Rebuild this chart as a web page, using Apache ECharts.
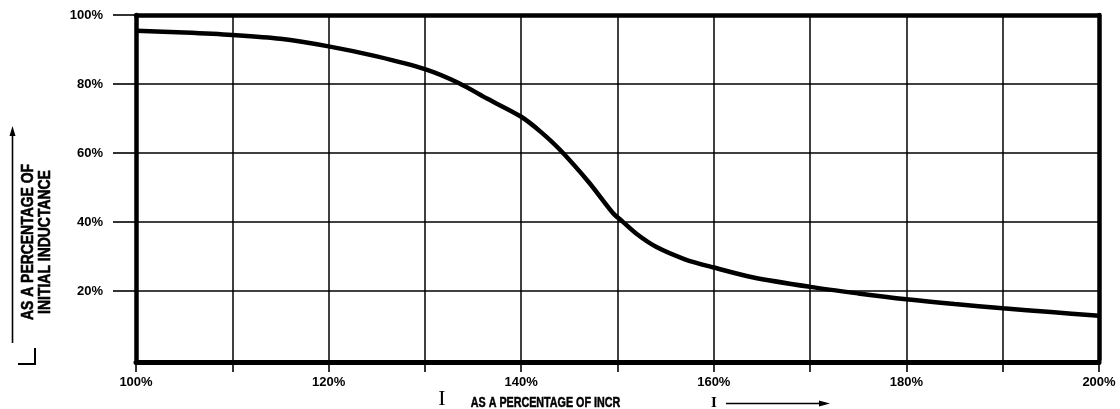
<!DOCTYPE html>
<html>
<head>
<meta charset="utf-8">
<script src="https://cdn.jsdelivr.net/npm/echarts@6/dist/echarts.min.js"></script>
<style>
html,body{margin:0;padding:0;background:#fff;}
#chart{width:1120px;height:409px;}
</style>
</head>
<body>
<div id="chart"></div>
<script>
// Current as a percentage of I_INCR (x) and inductance as a percentage of initial (y)
const currentPct = [100, 105, 110, 115, 120, 125, 130, 133.5, 136.5, 140, 142, 144, 147, 149.5, 150.5, 152, 154, 157, 160, 164, 170, 175, 180, 185, 190, 195, 200];
const inductancePct = [95.4, 94.9, 94.2, 93.1, 90.9, 88.0, 84.3, 80.3, 75.7, 70.5, 66.2, 61.0, 51.6, 42.7, 40.2, 36.5, 32.8, 29.2, 26.8, 24.0, 21.2, 19.3, 17.6, 16.2, 15.0, 13.9, 12.8];
const xLabelValues = [100, 120, 140, 160, 180, 200];
const yLabelValues = [20, 40, 60, 80, 100];
const yTitleText = 'AS A PERCENTAGE OF\nINITIAL INDUCTANCE';
const xTitleText = 'AS A PERCENTAGE OF INCR';

const FONT = '"Liberation Sans", Arial, sans-serif';
const SERIF = '"Liberation Serif", "DejaVu Serif", serif';

const chart = echarts.init(document.getElementById('chart'), null, {renderer: 'canvas'});
const points = currentPct.map((x, i) => [x, inductancePct[i]]);

chart.setOption({
  animation: false,
  backgroundColor: '#fff',
  grid: {left: 136, right: 21, top: 15, bottom: 49, containLabel: false},
  xAxis: [{
    type: 'value', position: 'bottom', min: 100, max: 200, interval: 10, offset: 2,
    axisLine: {show: true, onZero: false, lineStyle: {color: '#000', width: 5}},
    axisTick: {show: true, length: 10, lineStyle: {color: '#000', width: 1.6}},
    axisLabel: {
      customValues: xLabelValues, margin: 14, color: '#000',
      fontFamily: FONT, fontWeight: 'bold', fontSize: 13,
      formatter: v => v + '%'
    },
    splitLine: {show: true, lineStyle: {color: '#000', width: 1.5}}
  }, {
    type: 'value', position: 'top', min: 100, max: 200,
    axisLine: {show: true, onZero: false, lineStyle: {color: '#000', width: 4.5}},
    axisTick: {show: false}, axisLabel: {show: false}, splitLine: {show: false}
  }],
  yAxis: [{
    type: 'value', position: 'left', min: 0, max: 100, interval: 20,
    axisLine: {show: true, onZero: false, lineStyle: {color: '#000', width: 4.5}},
    axisTick: {show: true, customValues: yLabelValues, length: 23, lineStyle: {color: '#000', width: 1.6}},
    axisLabel: {
      customValues: yLabelValues, margin: 33, color: '#000',
      fontFamily: FONT, fontWeight: 'bold', fontSize: 13,
      formatter: v => v + '%'
    },
    splitLine: {show: true, lineStyle: {color: '#000', width: 1.5}}
  }, {
    type: 'value', position: 'right', min: 0, max: 100,
    axisLine: {show: true, onZero: false, lineStyle: {color: '#000', width: 4.5}},
    axisTick: {show: false}, axisLabel: {show: false}, splitLine: {show: false}
  }],
  series: [{
    type: 'line', xAxisIndex: 0, yAxisIndex: 0,
    data: points, smooth: 0.3,
    showSymbol: false, symbol: 'none',
    lineStyle: {color: '#000', width: 4.5}
  }],
  graphic: [
    // vertical arrow (left)
    {type: 'line', shape: {x1: 12.5, y1: 343, x2: 12.5, y2: 134}, style: {stroke: '#000', lineWidth: 1.6}},
    {type: 'polygon', shape: {points: [[12.5, 126], [9.5, 136], [15.5, 136]]}, style: {fill: '#000'}},
    // inductance symbol L
    {type: 'polyline', shape: {points: [[35, 348], [35, 364], [18, 364]]}, style: {stroke: '#000', lineWidth: 2, fill: null}},
    // y title
    {type: 'text', x: 36.5, y: 242, rotation: Math.PI / 2, scaleX: 0.82,
     style: {text: yTitleText, fill: '#000', stroke: '#000', lineWidth: 0.6,
             fontFamily: FONT, fontWeight: 'bold', fontSize: 17,
             align: 'center', verticalAlign: 'middle', lineHeight: 17}},
    // x title
    {type: 'text', x: 442, y: 399,
     style: {text: 'I', fill: '#000', fontFamily: SERIF, fontSize: 22, align: 'center', verticalAlign: 'middle'}},
    {type: 'text', x: 545.5, y: 403, scaleX: 0.74,
     style: {text: xTitleText, fill: '#000', stroke: '#000', lineWidth: 0.5,
             fontFamily: FONT, fontWeight: 'bold', fontSize: 14.5,
             align: 'center', verticalAlign: 'middle'}},
    {type: 'text', x: 714, y: 403,
     style: {text: 'I', fill: '#000', fontFamily: SERIF, fontWeight: 'bold', fontSize: 15, align: 'center', verticalAlign: 'middle'}},
    // horizontal arrow
    {type: 'line', shape: {x1: 726, y1: 403.5, x2: 820, y2: 403.5}, style: {stroke: '#000', lineWidth: 1.6}},
    {type: 'polygon', shape: {points: [[830, 403.5], [819, 400.5], [819, 406.5]]}, style: {fill: '#000'}}
  ]
});
</script>
</body>
</html>
